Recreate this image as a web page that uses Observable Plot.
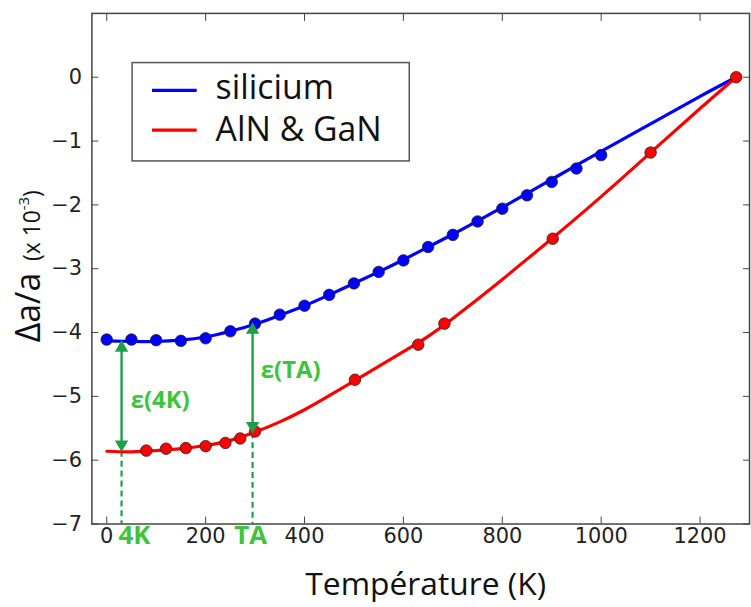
<!DOCTYPE html>
<html><head><meta charset="utf-8">
<script src="https://cdn.jsdelivr.net/npm/d3@7"></script>
<script src="https://cdn.jsdelivr.net/npm/@observablehq/plot@0.6"></script>
<style>
html,body{margin:0;padding:0;background:#fff;overflow:hidden;}
#wrap{position:relative;width:751px;height:607px;overflow:hidden;}
</style></head><body><div id="wrap"></div>
<script>
// ---- data ----
const xTicks = [0, 200, 400, 600, 800, 1000, 1200];
const yTicks = [-7, -6, -5, -4, -3, -2, -1, 0];

const seriesNames = ["silicium", "AlN & GaN"];
const seriesColors = ["#0000ff", "#ff0000"];

// measured points
const siTemp = [0,50,100,150,200,250,300,350,400,450,500,550,600,650,700,750,800,850,900,950,1000];
const siVal  = [-4.11,-4.11,-4.12,-4.13,-4.09,-3.98,-3.86,-3.72,-3.58,-3.41,-3.23,-3.05,-2.87,-2.66,-2.47,-2.26,-2.06,-1.85,-1.64,-1.43,-1.22];

const nitTemp = [80,120,160,200,240,270,300,502,630,683,902,1100,1273];
const nitVal  = [-5.85,-5.82,-5.81,-5.78,-5.73,-5.66,-5.55,-4.74,-4.19,-3.86,-2.53,-1.18,0];

// fitted curves
const siCurveT = [0,50,100,150,200,250,300,350,400,450,500,550,600,650,700,750,800,850,900,950,1000,1100,1200,1273];
const siCurveV = [-4.13,-4.14,-4.14,-4.12,-4.07,-3.98,-3.87,-3.73,-3.58,-3.41,-3.23,-3.05,-2.86,-2.66,-2.46,-2.25,-2.04,-1.82,-1.60,-1.38,-1.16,-0.73,-0.30,0];

const nitCurveT = [0,50,100,150,200,250,300,350,400,450,500,550,600,650,700,750,800,850,900,1000,1100,1200,1273];
const nitCurveV = [-5.86,-5.87,-5.85,-5.82,-5.77,-5.69,-5.56,-5.40,-5.21,-4.99,-4.76,-4.53,-4.30,-4.06,-3.78,-3.48,-3.17,-2.85,-2.53,-1.87,-1.18,-0.49,0];

// annotations
const annT = [30, 295];
const annTop = [-4.13, -3.85];
const annBottom = [-5.86, -5.57];
const annLabels = ["4K", "TA"];
const epsLabels = ["\u03B5(4K)", "\u03B5(TA)"];
const epsT = [108, 372];
const epsV = [-5.07, -4.60];

const green = "#1f9e48";
const textGreen = "#3cc43c";

const fmtY = d => (d < 0 ? "\u2212" : "") + Math.abs(d);
const fmtX = d => String(d);

const chart = Plot.plot({
  width: 756, height: 607,
  marginLeft: 92, marginRight: 2, marginTop: 13, marginBottom: 80,
  x: {domain: [-30, 1300]},
  y: {domain: [-7, 1]},
  style: {fontFamily: "DejaVu Sans", fontSize: "21px", color: "#222", background: "#fff"},
  marks: [
    // dashed drop lines
    Plot.ruleX(annT, {x: annT, y1: annBottom, y2: -7, stroke: green, strokeWidth: 2.2, strokeDasharray: "6,4"}),
    // curves
    Plot.line(siCurveT, {x: siCurveT, y: siCurveV, stroke: seriesColors[0], strokeWidth: 3.2, curve: "natural"}),
    Plot.line(nitCurveT, {x: nitCurveT, y: nitCurveV, stroke: seriesColors[1], strokeWidth: 3.2, curve: "natural"}),
    // points
    Plot.dot(siTemp, {x: siTemp, y: siVal, r: 5.8, fill: seriesColors[0], stroke: "#222", strokeWidth: 0.8}),
    Plot.dot(nitTemp, {x: nitTemp, y: nitVal, r: 5.8, fill: seriesColors[1], stroke: "#222", strokeWidth: 0.8}),
    // double arrows
    Plot.ruleX(annT, {x: annT, y1: annTop, y2: annBottom, stroke: green, strokeWidth: 2.4, insetTop: 6, insetBottom: 6}),
    Plot.dot(annT, {x: annT, y: annTop, symbol: "triangle", r: 5, fill: green, stroke: "none", dy: 7}),
    Plot.dot(annT, {x: annT, y: annBottom, symbol: "triangle", rotate: 180, r: 5, fill: green, stroke: "none", dy: -7}),
    Plot.text(epsLabels, {x: epsT, y: epsV, text: d => d, fill: textGreen, fontSize: 24, fontWeight: "bold", fontFamily: "Open Sans"}),
    Plot.text([annLabels[0]], {x: [annT[0]], text: d => d, frameAnchor: "bottom", textAnchor: "start", lineAnchor: "top", dx: -3, dy: 2, fill: textGreen, fontSize: 26, fontWeight: "bold", fontFamily: "Open Sans"}),
    Plot.text([annLabels[1]], {x: [annT[1]], text: d => d, frameAnchor: "bottom", textAnchor: "middle", lineAnchor: "top", dx: -2, dy: 2, fill: textGreen, fontSize: 26, fontWeight: "bold", fontFamily: "Open Sans"}),
    // frame & inward ticks
    Plot.frame({stroke: "#444", strokeWidth: 1.5}),
    Plot.axisX(xTicks, {anchor: "bottom", tickSize: 7, dy: -7, fill: "none", label: null, stroke: "#444"}),
    Plot.axisX(xTicks, {anchor: "top", tickSize: 7, dy: 7, fill: "none", label: null, stroke: "#444"}),
    Plot.axisY(yTicks, {anchor: "left", tickSize: 7, dx: 7, fill: "none", label: null, stroke: "#444"}),
    Plot.axisY(yTicks, {anchor: "right", tickSize: 7, dx: -7, fill: "none", label: null, stroke: "#444"}),
    // tick labels
    Plot.axisX(xTicks, {anchor: "bottom", tickSize: 0, tickPadding: 4, tickFormat: fmtX, label: null, fill: "#222", fontSize: 21}),
    Plot.axisY(yTicks, {anchor: "left", tickSize: 0, tickPadding: 10, tickFormat: fmtY, label: null, fill: "#222", fontSize: 21}),
    // x axis title
    Plot.text(["Température (K)"], {frameAnchor: "bottom", text: d => d, lineAnchor: "bottom", dy: 71, dx: 5, fontSize: 32, fontFamily: "Open Sans", fill: "#111"})
  ]
});

document.getElementById("wrap").appendChild(chart);

// y axis title with superscript
const svg = d3.select(chart);
const yt = svg.append("text")
  .attr("transform", "translate(40,268) rotate(-90)")
  .attr("text-anchor", "middle")
  .style("font-family", "'Open Sans'")
  .attr("fill", "#111");
yt.append("tspan").attr("font-size", 34).text("\u0394a/a");
yt.append("tspan").attr("font-size", 23).attr("dx", 12).text("(x 10");
yt.append("tspan").attr("font-size", 15).attr("dy", -11).text("-3");
yt.append("tspan").attr("font-size", 23).attr("dy", 11).text(")");

// legend
const lg = svg.append("g").attr("text-anchor", "start");
lg.append("rect").attr("x", 133).attr("y", 63).attr("width", 279).attr("height", 99)
  .attr("fill", "#fff").attr("stroke", "#555").attr("stroke-width", 1.5);
const rowsY = [91, 131];
const baseY = [100, 141.7];
seriesNames.forEach((name, i) => {
  lg.append("line").attr("x1", 153).attr("x2", 198).attr("y1", rowsY[i]).attr("y2", rowsY[i])
    .attr("stroke", seriesColors[i]).attr("stroke-width", 3.2);
  lg.append("text").attr("x", 217).attr("y", baseY[i]).attr("text-anchor", "start")
    .style("font-family", "'Open Sans'")
    .attr("font-size", 34).attr("fill", "#111").text(name);
});
</script></body></html>
